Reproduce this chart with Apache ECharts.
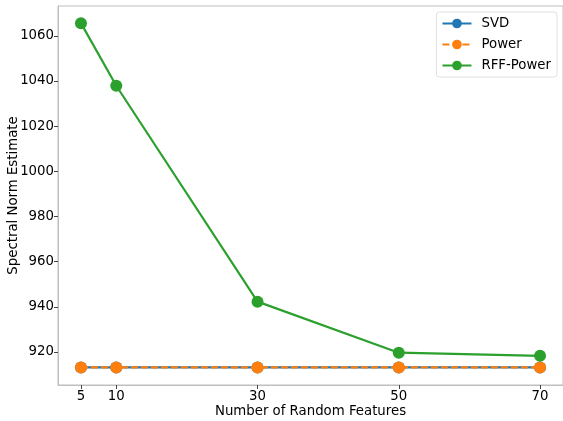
<!DOCTYPE html>
<html>
<head>
<meta charset="utf-8">
<script src="https://cdn.jsdelivr.net/npm/echarts@6/dist/echarts.min.js"></script>
<style>html,body{margin:0;padding:0;background:#fff}#c{width:563px;height:421px}</style>
</head>
<body>
<div id="c"></div>
<script>
const features = [5, 10, 30, 50, 70];
const svd = [913.2, 913.2, 913.2, 913.2, 913.2];
const power = [913.2, 913.2, 913.2, 913.2, 913.2];
const rffPower = [1065.6, 1037.9, 942.3, 919.7, 918.3];
const xTicks = [5, 10, 30, 50, 70];
const yTicks = [920, 940, 960, 980, 1000, 1020, 1040, 1060];

const font = 'DejaVu Sans';
const fs = 13.3;
const chart = echarts.init(document.getElementById('c'));
const pairs = a => features.map((x, i) => [x, a[i]]);
const spine = '#bfbfbf';
chart.setOption({
  animation: false,
  textStyle: {fontFamily: font},
  grid: {left: 58, right: 0, top: 6, bottom: 36, show: true, borderColor: spine, borderWidth: 1,
         containLabel: false, outerBoundsMode: 'none'},
  legend: {
    right: 6, top: 12, orient: 'vertical', itemWidth: 29, itemHeight: 12, itemGap: 8,
    padding: [5, 6, 5, 5], borderColor: '#e0e0e0', borderWidth: 1, borderRadius: 3,
    textStyle: {fontFamily: font, fontSize: fs, color: '#000', padding: [0, 0, 0, 5]},
    data: ['SVD', 'Power', 'RFF-Power']
  },
  xAxis: {
    type: 'value', min: 1.75, max: 73.25,
    name: 'Number of Random Features', nameLocation: 'middle', nameGap: 20, nameMoveOverlap: false,
    nameTextStyle: {fontFamily: font, fontSize: fs, color: '#000'},
    axisLine: {show: true, lineStyle: {color: spine}},
    axisTick: {show: true, length: 4, lineStyle: {color: '#444'}, customValues: xTicks},
    axisLabel: {fontFamily: font, fontSize: fs, color: '#000', margin: 5, customValues: xTicks,
                formatter: v => String(v)},
    splitLine: {show: false}
  },
  yAxis: {
    type: 'value', min: 905.4, max: 1073.2,
    name: 'Spectral Norm Estimate', nameLocation: 'middle', nameGap: 38, nameMoveOverlap: false,
    nameTextStyle: {fontFamily: font, fontSize: fs, color: '#000'},
    axisLine: {show: true, lineStyle: {color: spine}},
    axisTick: {show: true, length: 4, lineStyle: {color: '#444'}, customValues: yTicks},
    axisLabel: {fontFamily: font, fontSize: fs, color: '#000', margin: 4, customValues: yTicks,
                formatter: v => String(v)},
    splitLine: {show: false}
  },
  series: [
    {name: 'SVD', type: 'line', data: pairs(svd), symbol: 'circle', symbolSize: 12,
     itemStyle: {color: '#1f77b4'}, lineStyle: {width: 2.2, color: '#1f77b4'}, z: 2},
    {name: 'Power', type: 'line', data: pairs(power), symbol: 'circle', symbolSize: 12,
     itemStyle: {color: '#ff7f0e'}, lineStyle: {width: 2.2, color: '#ff7f0e', type: [7, 3]}, z: 3},
    {name: 'RFF-Power', type: 'line', data: pairs(rffPower), symbol: 'circle', symbolSize: 12,
     itemStyle: {color: '#2ca02c'}, lineStyle: {width: 2.2, color: '#2ca02c'}, z: 4}
  ]
});
</script>
</body>
</html>
